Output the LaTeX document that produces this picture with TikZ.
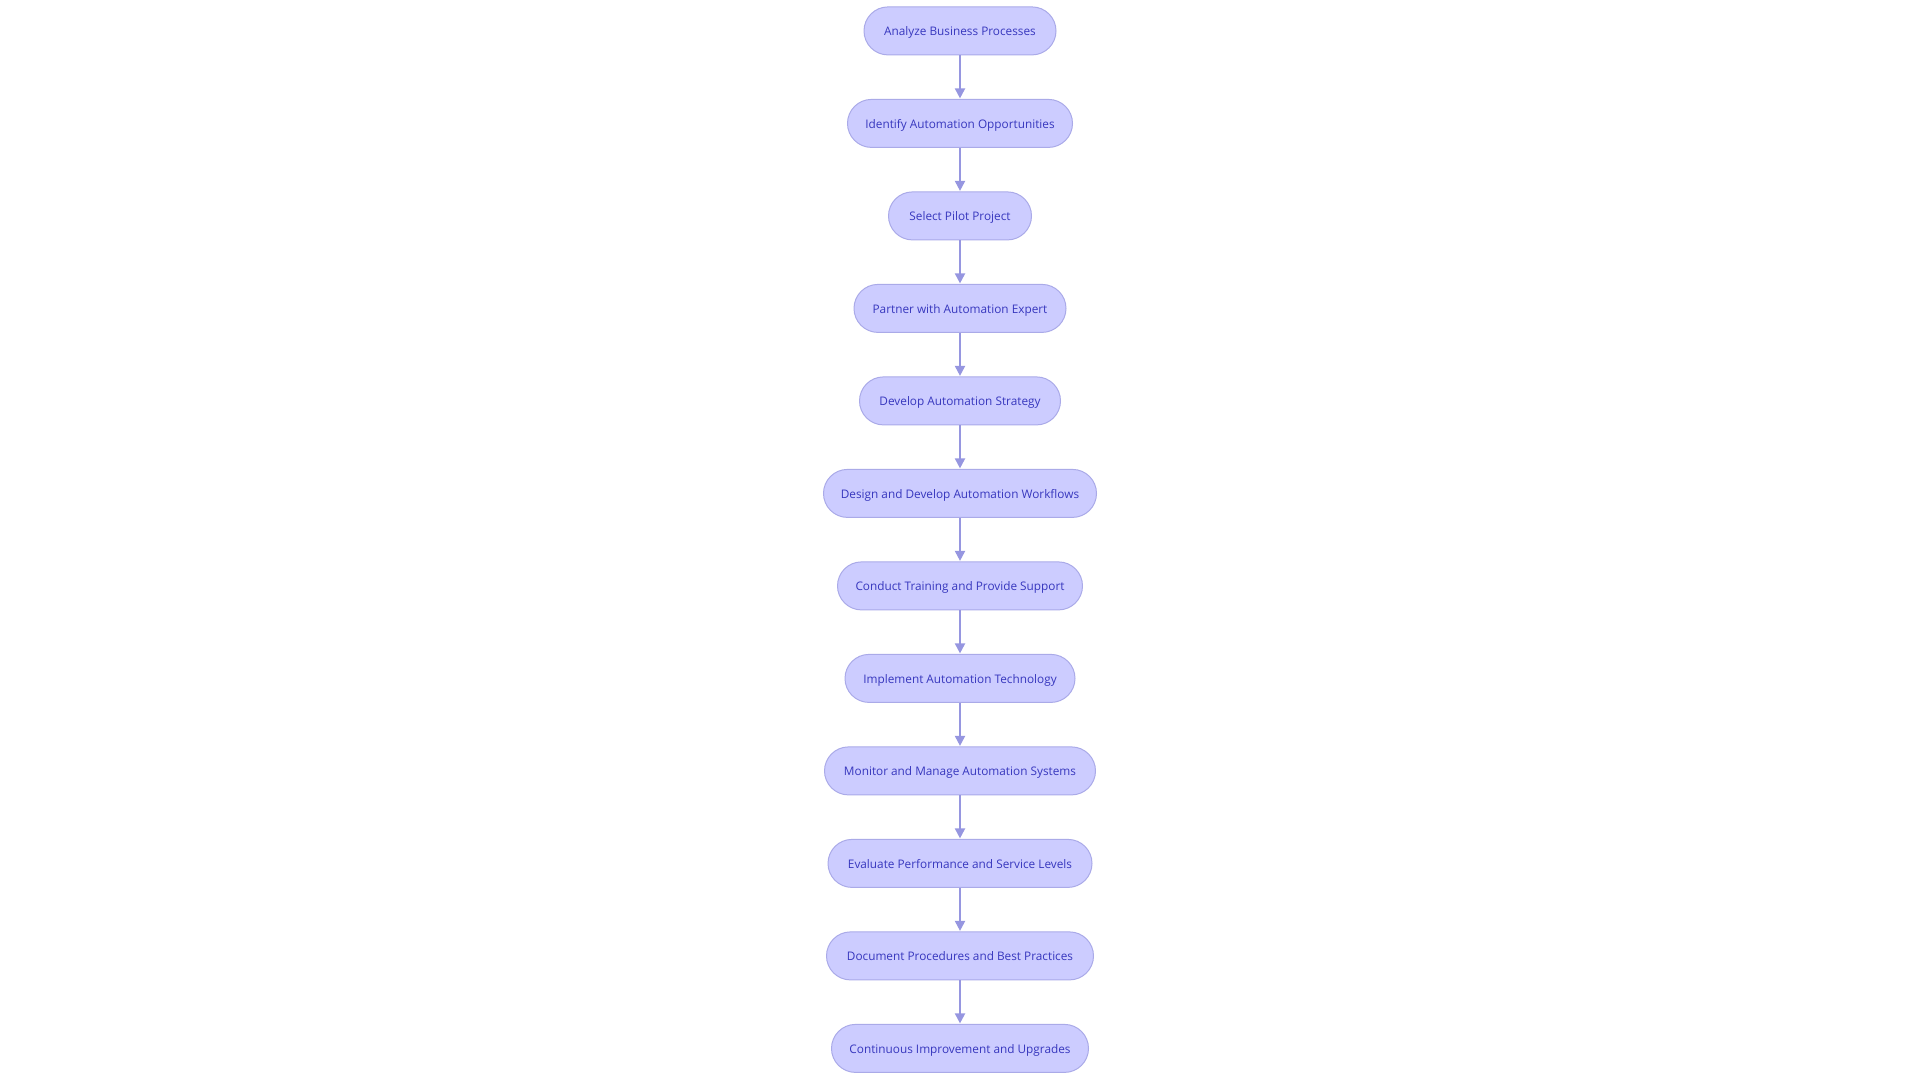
\documentclass[tikz,border=0pt]{standalone}
\usepackage{fontspec}
\setmainfont{Open Sans}
\usetikzlibrary{arrows.meta,positioning}
\definecolor{nodefill}{RGB}{204,204,255}
\definecolor{nodedraw}{RGB}{170,170,232}
\definecolor{nodetext}{RGB}{55,55,190}
\definecolor{edgecol}{RGB}{150,150,224}
\tikzset{
  stepbox/.style={draw=nodedraw, line width=1pt, fill=nodefill, rounded corners=24pt,
    minimum height=48pt, inner xsep=0pt, inner ysep=0pt, text=nodetext,
    text height=12pt, text depth=2.4pt,
    font=\fontsize{11.8pt}{14pt}\selectfont},
  flow/.style={draw=edgecol, line width=2pt, -{Triangle[length=10pt,width=10pt,fill=edgecol]}, shorten >=0.5pt}
}
\begin{document}
\begin{tikzpicture}[x=1pt,y=-1pt]
\useasboundingbox (0,0) rectangle (1920,1080);
\node[stepbox, minimum width=192pt] (n1) at (960,30.9) {Analyze Business Processes};
\node[stepbox, minimum width=225pt] (n2) at (960,123.4) {Identify Automation Opportunities};
\node[stepbox, minimum width=143pt] (n3) at (960,215.9) {Select Pilot Project};
\node[stepbox, minimum width=212pt] (n4) at (960,308.4) {Partner with Automation Expert};
\node[stepbox, minimum width=201pt] (n5) at (960,400.9) {Develop Automation Strategy};
\node[stepbox, minimum width=273pt] (n6) at (960,493.4) {Design and Develop Automation Workflows};
\node[stepbox, minimum width=245pt] (n7) at (960,585.9) {Conduct Training and Provide Support};
\node[stepbox, minimum width=230pt] (n8) at (960,678.4) {Implement Automation Technology};
\node[stepbox, minimum width=271pt] (n9) at (960,770.9) {Monitor and Manage Automation Systems};
\node[stepbox, minimum width=264pt] (n10) at (960,863.4) {Evaluate Performance and Service Levels};
\node[stepbox, minimum width=267pt] (n11) at (960,955.9) {Document Procedures and Best Practices};
\node[stepbox, minimum width=257pt] (n12) at (960,1048.4) {Continuous Improvement and Upgrades};
\foreach \a/\b in {n1/n2,n2/n3,n3/n4,n4/n5,n5/n6,n6/n7,n7/n8,n8/n9,n9/n10,n10/n11,n11/n12}
  \draw[flow] (\a) -- (\b);
\end{tikzpicture}
\end{document}
